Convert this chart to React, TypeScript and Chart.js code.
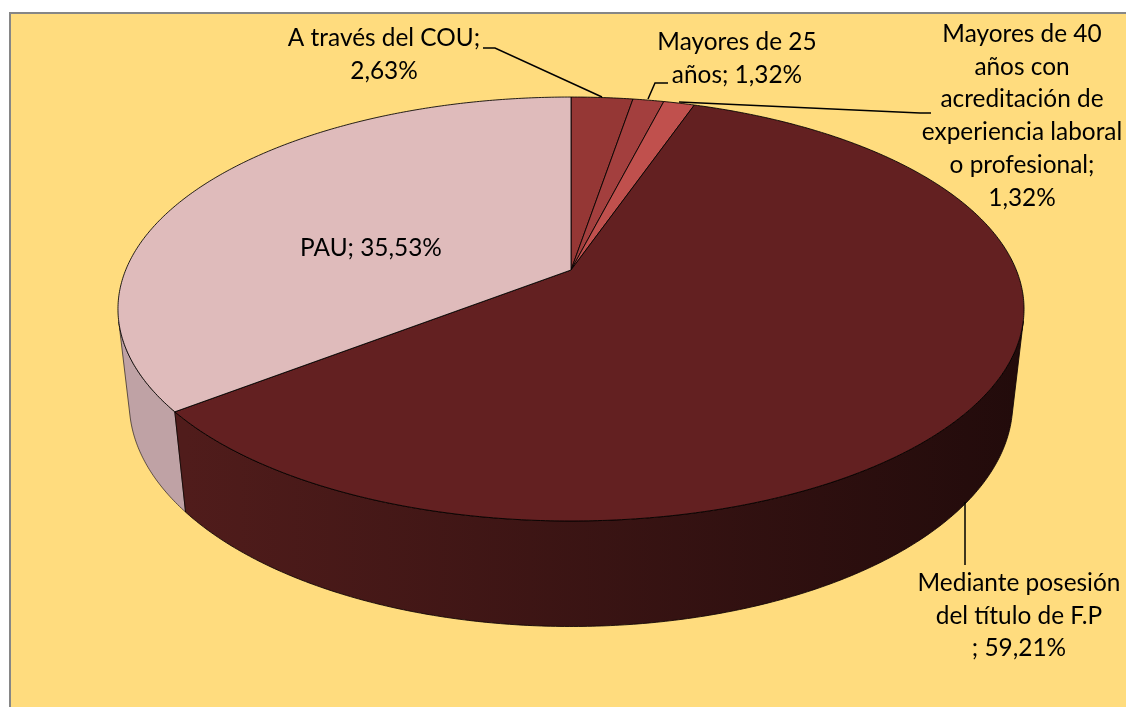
import React, { useEffect, useRef } from "react";
import { Chart, registerables } from "chart.js";

Chart.register(...registerables);

const categories = [
  "A través del COU",
  "Mayores de 25 años",
  "Mayores de 40 años con acreditación de experiencia laboral o profesional",
  "Mediante posesión del título de F.P",
  "PAU",
];
const shares = [2.63, 1.32, 1.32, 59.21, 35.53];
const topColors = ["#953735", "#A33F3E", "#C0504D", "#632021", "#DFBBBB"];
const wallStops = [
  ["#7a2c2b", "#7a2c2b"],
  ["#7a2c2b", "#7a2c2b"],
  ["#7a2c2b", "#7a2c2b"],
  ["#501c1b", "#220b0b"],
  ["#bfa2a5", "#c2a6a8"],
];
const labelLines = [
  ["A través del COU;", "2,63%"],
  ["Mayores de 25", "años; 1,32%"],
  ["Mayores de 40", "años con", "acreditación de", "experiencia laboral", "o profesional;", "1,32%"],
  ["Mediante posesión", "del título de F.P", "; 59,21%"],
  ["PAU; 35,53%"],
];
const labelCenters = [
  [384, 38],
  [737, 42],
  [1022, 34],
  [1019, 583],
  [371, 248],
];
const leaders = [
  [[483, 48], [495, 48], [602, 97]],
  [[648, 99], [655, 83], [668, 83]],
  [[679, 102], [920, 113], [931, 113]],
  [[965, 502], [965, 565]],
];

const CX = 571;
const CY = 270;
const A = 445.3;
const B = 204.8;
const K = 0.184;
const M = 0.0247;
const D = 94.9;
const LINE_H = 32.8;
const FONT = '24.4px Lato, "Open Sans", sans-serif';

function rim(angle: number, lower: boolean): [number, number] {
  const u = Math.cos(angle);
  const v = Math.sin(angle);
  const w = 1 - K * v + (lower ? M : 0);
  return [CX + (A * u) / w, CY + (B * v + (lower ? D : 0)) / w];
}

function rimPoints(a0: number, a1: number, lower: boolean) {
  const steps = Math.max(2, Math.ceil(((a1 - a0) * 360) / Math.PI));
  const pts: [number, number][] = [];
  for (let i = 0; i <= steps; i++) pts.push(rim(a0 + ((a1 - a0) * i) / steps, lower));
  return pts;
}

const piePlugin = {
  id: "perspectivePie",
  beforeDraw(chart: any) {
    const ctx = chart.ctx;
    ctx.save();
    ctx.fillStyle = "#FFFFFF";
    ctx.fillRect(0, 0, chart.width, chart.height);
    ctx.fillStyle = "#FFDC7E";
    ctx.fillRect(10, 13, chart.width - 10, chart.height - 13);
    ctx.strokeStyle = "#868686";
    ctx.lineWidth = 2;
    ctx.beginPath();
    ctx.moveTo(10, chart.height);
    ctx.lineTo(10, 13);
    ctx.lineTo(chart.width, 13);
    ctx.stroke();
    ctx.restore();
  },
  beforeDatasetsDraw(chart: any) {
    const ctx = chart.ctx;
    const arcs = chart.getDatasetMeta(0).data;
    ctx.save();
    ctx.lineJoin = "round";
    [4, 3, 0, 1, 2].forEach((i) => {
      const { startAngle, endAngle } = arcs[i];
      const top = rimPoints(startAngle, endAngle, false);
      const low = rimPoints(startAngle, endAngle, true);
      const grad = ctx.createLinearGradient(186, 0, 1020, 0);
      grad.addColorStop(0, wallStops[i][0]);
      grad.addColorStop(1, wallStops[i][1]);
      const facing = (j: number) => {
        const dx = top[j + 1][0] - top[j][0];
        const dy = top[j + 1][1] - top[j][1];
        const rx = low[j][0] - top[j][0];
        const ry = low[j][1] - top[j][1];
        return dx * ry - dy * rx < 0;
      };
      const n = top.length - 1;
      let j = 0;
      while (j < n) {
        if (!facing(j)) {
          j++;
          continue;
        }
        let end = j;
        while (end < n && facing(end)) end++;
        const upper = top.slice(j, end + 1);
        const lower = low.slice(j, end + 1);
        ctx.beginPath();
        [...upper, ...[...lower].reverse()].forEach((p, q) =>
          q ? ctx.lineTo(p[0], p[1]) : ctx.moveTo(p[0], p[1])
        );
        ctx.closePath();
        ctx.fillStyle = grad;
        ctx.fill();
        ctx.lineWidth = 1;
        ctx.strokeStyle = i === 4 ? "rgba(50,40,40,0.75)" : "rgba(15,3,3,0.85)";
        ctx.stroke();
        j = end;
      }
    });
    arcs.forEach((arc: any, i: number) => {
      ctx.beginPath();
      ctx.moveTo(CX, CY);
      rimPoints(arc.startAngle, arc.endAngle, false).forEach((p) => ctx.lineTo(p[0], p[1]));
      ctx.closePath();
      ctx.fillStyle = topColors[i];
      ctx.fill();
      ctx.strokeStyle = "rgba(0,0,0,0.85)";
      ctx.lineWidth = 1;
      ctx.stroke();
    });
    ctx.restore();
    return false;
  },
  afterDraw(chart: any) {
    const ctx = chart.ctx;
    ctx.save();
    ctx.strokeStyle = "#000000";
    ctx.lineWidth = 1.5;
    leaders.forEach((path) => {
      ctx.beginPath();
      path.forEach((p, j) => (j ? ctx.lineTo(p[0], p[1]) : ctx.moveTo(p[0], p[1])));
      ctx.stroke();
    });
    ctx.fillStyle = "#000000";
    ctx.font = FONT;
    ctx.textAlign = "center";
    ctx.textBaseline = "middle";
    labelLines.forEach((lines, i) => {
      lines.forEach((line, j) => {
        ctx.fillText(line, labelCenters[i][0], labelCenters[i][1] + j * LINE_H);
      });
    });
    ctx.restore();
  },
};

export default function App() {
  const ref = useRef<HTMLCanvasElement>(null);
  useEffect(() => {
    document.body.style.margin = "0";
    document.body.style.overflow = "hidden";
    const chart = new Chart(ref.current!, {
      type: "pie",
      data: {
        labels: categories,
        datasets: [{ data: shares, backgroundColor: topColors }],
      },
      options: {
        responsive: false,
        animation: false,
        events: [],
        plugins: { legend: { display: false }, tooltip: { enabled: false } },
      },
      plugins: [piePlugin],
    } as any);
    return () => chart.destroy();
  }, []);
  return <canvas ref={ref} width={1126} height={707} style={{ display: "block" }} />;
}
